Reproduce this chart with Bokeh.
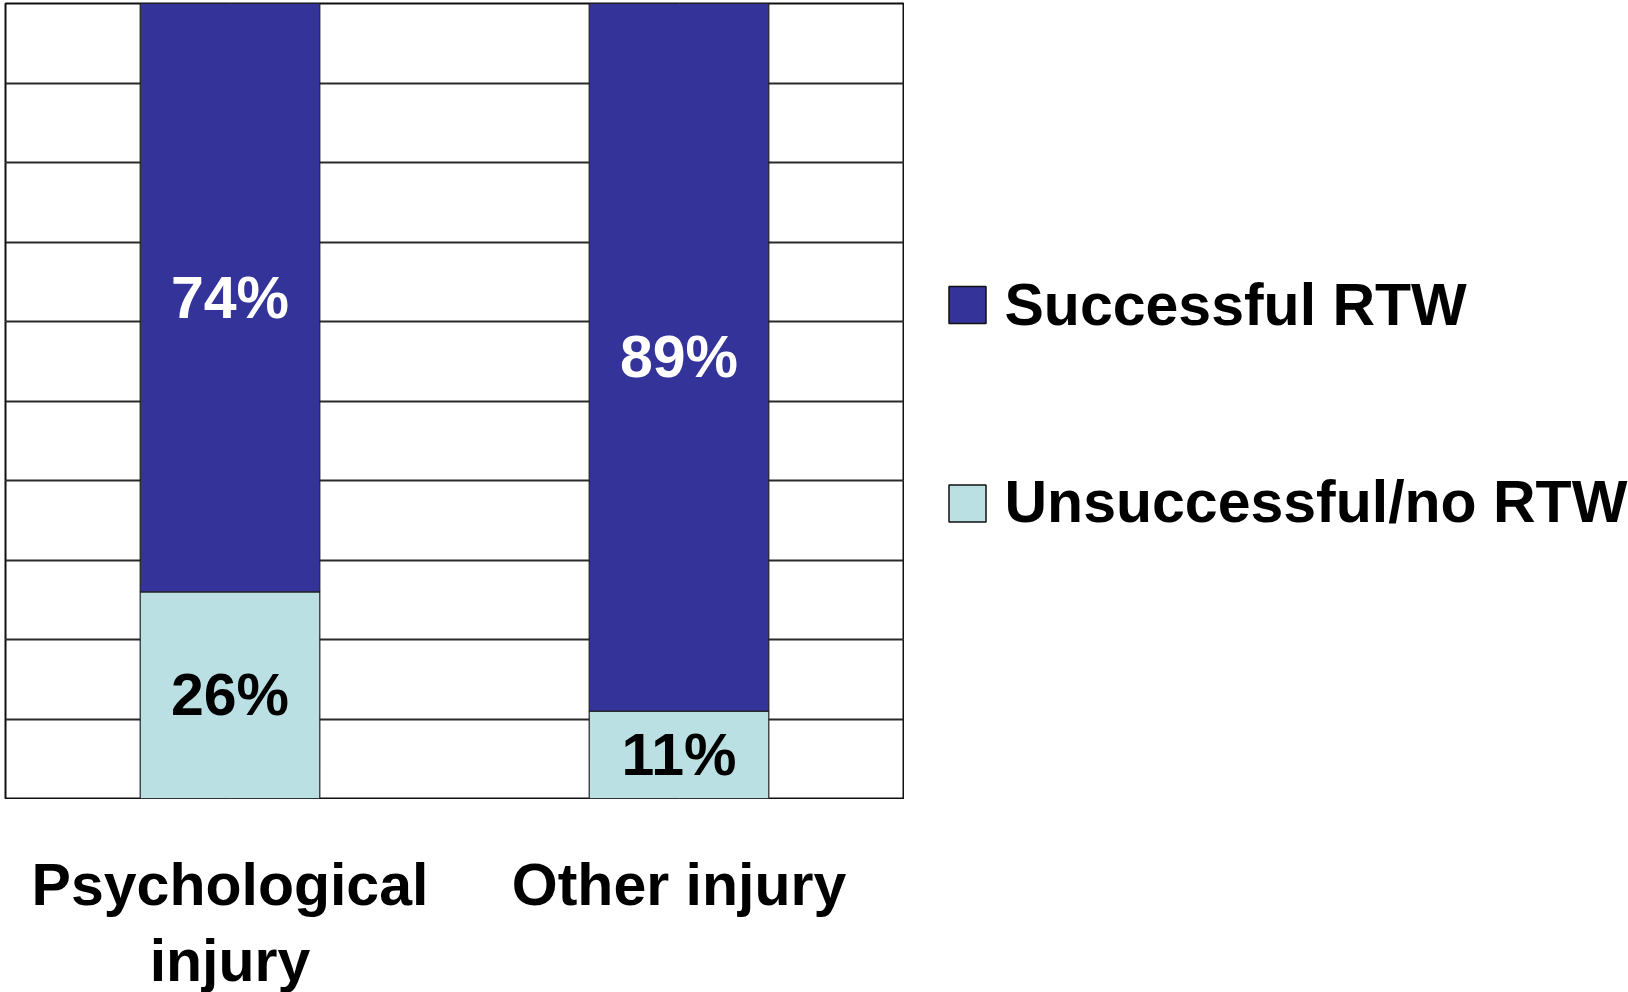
from bokeh.plotting import figure
from bokeh.models import Range1d, Grid, FixedTicker, ColumnDataSource
from bokeh.layouts import row, column
from bokeh.embed import file_html
from bokeh.resources import INLINE
from bokeh.core.properties import value

# ---- data ----
categories = ["Psychological\ninjury", "Other injury"]
series = ["Unsuccessful/no RTW", "Successful RTW"]
unsuccessful = [26, 11]
successful = [74, 89]
colors = ["#BBE0E3", "#333399"]
label_colors = ["black", "white"]
y_ticks = [0, 10, 20, 30, 40, 50, 60, 70, 80, 90, 100]

FONT = "Liberation Sans"

# ---- main chart ----
p = figure(x_range=categories, y_range=Range1d(0, 100), width=904, height=799,
           x_axis_location=None, y_axis_location=None,
           output_backend="svg", toolbar_location=None,
           min_border_left=5, min_border_right=1, min_border_top=3, min_border_bottom=1)
p.outline_line_color = "#111111"
p.outline_line_width = 2
p.background_fill_color = "white"
p.border_fill_color = "white"
p.add_layout(Grid(dimension=1, ticker=FixedTicker(ticks=y_ticks),
                  grid_line_color="#2a2a2a", grid_line_width=2))

src = ColumnDataSource(dict(x=categories, u=unsuccessful, s=successful))
p.vbar_stack(["u", "s"], x="x", width=0.4, source=src, color=colors,
             line_color="#222222", line_width=1.2)

# segment labels
lab_x, lab_y, lab_t, lab_c = [], [], [], []
for i, c in enumerate(categories):
    lab_x += [c, c]
    lab_y += [unsuccessful[i] / 2, unsuccessful[i] + successful[i] / 2]
    lab_t += [f"{unsuccessful[i]}%", f"{successful[i]}%"]
    lab_c += [label_colors[0], label_colors[1]]
p.text(x=lab_x, y=lab_y, text=lab_t, text_color=lab_c,
       text_font=value(FONT), text_font_style="bold", text_font_size="59px",
       text_align="center", text_baseline="middle")

# ---- category labels below ----
lab_h = 193
pl = figure(x_range=p.x_range, y_range=Range1d(0, lab_h), width=904, height=lab_h,
            x_axis_location=None, y_axis_location=None,
            output_backend="svg", toolbar_location=None,
            min_border_left=5, min_border_right=1, min_border_top=0, min_border_bottom=0)
pl.outline_line_color = None
pl.grid.visible = False
pl.text(x=categories, y=[141] * len(categories), text=categories,
        text_font=value(FONT), text_font_style="bold", text_font_size="59px",
        text_align="center", text_baseline="top", text_line_height=1.16,
        text_color="black")

# ---- legend panel ----
lw, lh = 724, 992
pg = figure(x_range=Range1d(0, lw), y_range=Range1d(0, lh), width=lw, height=lh,
            x_axis_location=None, y_axis_location=None,
            output_backend="svg", toolbar_location=None,
            min_border_left=0, min_border_right=0, min_border_top=0, min_border_bottom=0)
pg.outline_line_color = None
pg.grid.visible = False
leg_names = [series[1], series[0]]
leg_colors = [colors[1], colors[0]]
sq_y = [687.5, 489]
txt_y = [688, 491]
pg.rect(x=[63] * 2, y=sq_y, width=37, height=37, fill_color=leg_colors,
        line_color="#111111", line_width=1.5)
pg.text(x=[100] * 2, y=txt_y, text=leg_names, text_font=value(FONT),
        text_font_style="bold", text_font_size="59px",
        text_align="left", text_baseline="middle", text_color="black")

layout = row(column(p, pl), pg)
open("out.html", "w").write(file_html(layout, INLINE))
